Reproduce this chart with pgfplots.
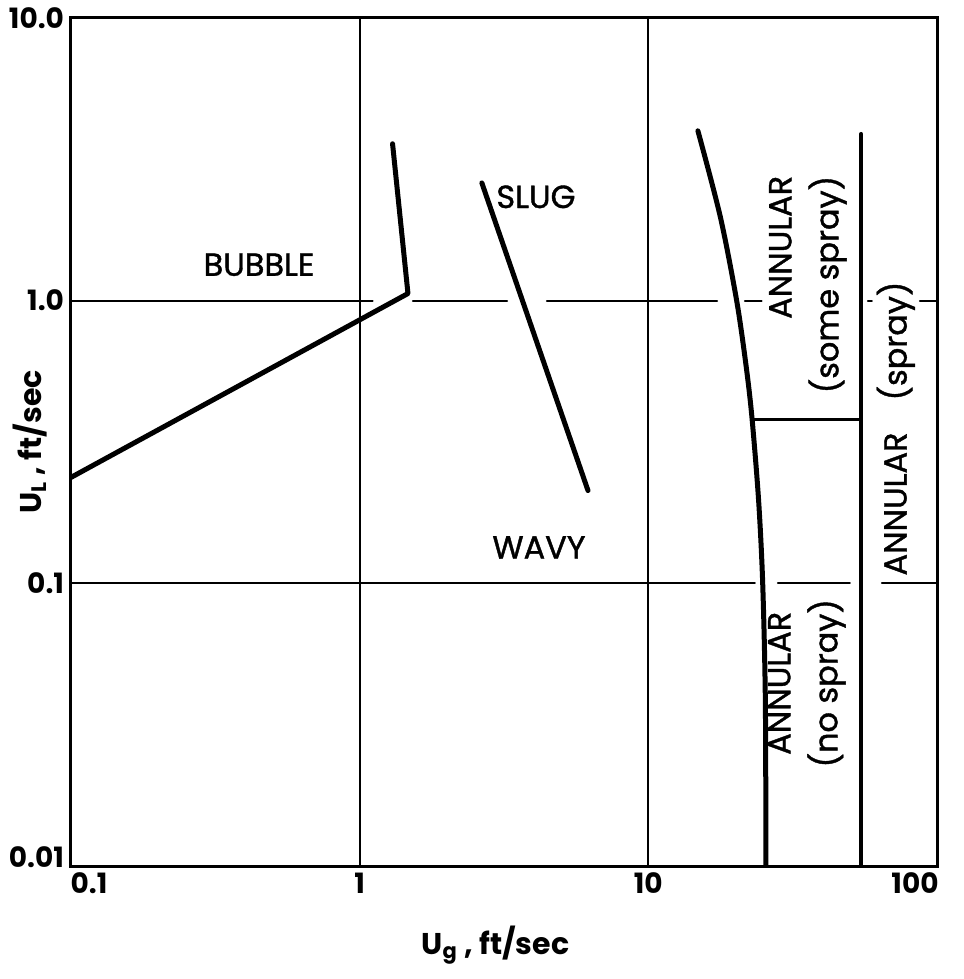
\documentclass[border=0pt]{standalone}
\usepackage{pgfplots}
\pgfplotsset{compat=1.18}
\usepackage{fontspec}
\setmainfont{Poppins}
\newfontfamily\lbl{Poppins}[FakeBold=1.2]
\begin{document}
\begin{tikzpicture}
\begin{axis}[
    scale only axis,
    width=433pt, height=424pt,
    xmode=log, ymode=log,
    xmin=0.1, xmax=100, ymin=0.01, ymax=10,
    axis line style={line width=1.5pt},
    xtick={0.1,1,10,100},
    ytick={0.01,0.1,1,10},
    xticklabels={\hspace*{18pt}0.1, 1, 10, 100\hspace*{22pt}},
    yticklabels={\raisebox{9pt}{0.01}, 0.1, 1.0, 10.0},
    xminorticks=false, yminorticks=false,
    major tick length=0pt,
    tick label style={font=\fontsize{14}{16}\selectfont\bfseries},
    xlabel={U\textsubscript{g} , ft/sec},
    ylabel={U\textsubscript{L} , ft/sec},
    every axis x label/.style={at={(axis description cs:0.49,-0.093)},anchor=center,font=\fontsize{15}{18}\selectfont\bfseries},
    every axis y label/.style={at={(axis description cs:-0.047,0.50)},rotate=90,anchor=center,font=\fontsize{15}{18}\selectfont\bfseries},
    every axis plot/.append style={black, line cap=round, line join=round},
]
% decade grid lines, vertical (full height)
\addplot[line width=1pt] coordinates {(1,0.01) (1,10)};
\addplot[line width=1pt] coordinates {(10,0.01) (10,10)};
% horizontal grid line at 1.0, broken by curves and labels
\addplot[line width=1pt] coordinates {(0.1,1) (1.11,1)};
\addplot[line width=1pt] coordinates {(1.53,1) (3.24,1)};
\addplot[line width=1pt] coordinates {(4.45,1) (17.3,1)};
\addplot[line width=1pt] coordinates {(21.6,1) (24.7,1)};
\addplot[line width=1pt] coordinates {(57.6,1) (59.5,1)};
\addplot[line width=1pt] coordinates {(87.3,1) (100,1)};
% horizontal grid line at 0.1
\addplot[line width=1pt] coordinates {(0.1,0.1) (23.4,0.1)};
\addplot[line width=1pt] coordinates {(28.1,0.1) (49.9,0.1)};
\addplot[line width=1pt] coordinates {(64.4,0.1) (100,0.1)};

% bubble / slug boundary
\addplot[line width=2.5pt] coordinates {(0.1,0.237) (1.47,1.06) (1.30,3.59)};
% slug / wavy boundary
\addplot[line width=2.5pt] coordinates {(2.65,2.61) (6.18,0.213)};
% annular boundary
\addplot[line width=2.5pt, smooth, tension=0.5] coordinates {
    (14.85,3.99) (17.76,1.98) (20.23,1.0) (21.83,0.584) (22.87,0.383)
    (24.10,0.1965) (24.90,0.1) (25.43,0.0386) (25.55,0.01)};
% some spray / no spray
\addplot[line width=1.6pt] coordinates {(22.87,0.38) (54.6,0.38)};
% spray boundary
\addplot[line width=2pt] coordinates {(54.6,3.89) (54.6,0.01)};

\node[font=\lbl\fontsize{16}{18}\selectfont] at (axis cs:0.448,1.34) {BUBBLE};
\node[font=\lbl\fontsize{16}{18}\selectfont] at (axis cs:4.08,2.33) {SLUG};
\node[font=\lbl\fontsize{16}{18}\selectfont] at (axis cs:4.18,0.134) {WAVY};
\node[font=\lbl\fontsize{16}{23.5}\selectfont, rotate=90, align=right] at (axis cs:35.7,1.14) {ANNULAR\\(some spray)};
\node[font=\lbl\fontsize{16}{23.5}\selectfont, rotate=90, align=center] at (axis cs:35.4,0.0443) {ANNULAR\\(no spray)};
\node[font=\lbl\fontsize{16}{18}\selectfont, rotate=90] at (axis cs:72.0,0.353) {ANNULAR\hspace{16pt}(spray)};
\end{axis}
\pgfresetboundingbox
\path ([xshift=-35.5pt,yshift=-56.5pt]current axis.south west) rectangle ([xshift=13pt,yshift=9pt]current axis.north east);
\end{tikzpicture}
\end{document}
